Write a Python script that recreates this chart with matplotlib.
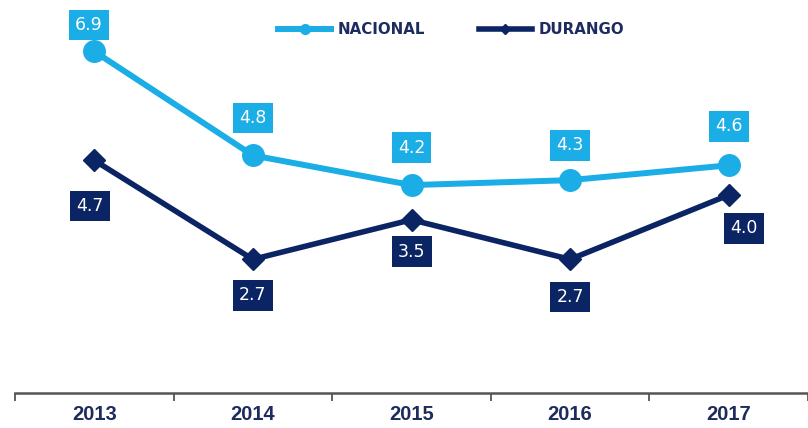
import numpy as np
import matplotlib
matplotlib.use('Agg')
import matplotlib.pyplot as plt

years = ['2013', '2014', '2015', '2016', '2017']
nacional = [6.9, 4.8, 4.2, 4.3, 4.6]
durango = [4.7, 2.7, 3.5, 2.7, 4.0]

c_nac = '#1AADE6'
c_dur = '#0B2463'
c_txt = '#1E2B5E'

fig = plt.figure(figsize=(8.08, 4.28), dpi=100)
ax = fig.add_axes([15/808, 35/428, 1 - 15/808, 393/428])

x = np.arange(len(years))
ax.plot(x, nacional, color=c_nac, lw=4.3, marker='o', ms=15.5, label='NACIONAL', zorder=3)
ax.plot(x, durango, color=c_dur, lw=4, marker='D', ms=11.5, label='DURANGO', zorder=3)

# value boxes
nac_off = [(-4, 19), (0, 27), (0, 27), (0, 25), (0, 28)]
dur_off = [(-3, -33), (0, -26), (0, -23), (0, -27), (11, -24)]
for i in range(len(years)):
    ax.annotate(f'{nacional[i]:.1f}', (x[i], nacional[i]), xytext=nac_off[i],
                textcoords='offset points', ha='center', va='center',
                color='white', fontsize=12.5,
                bbox=dict(boxstyle='square,pad=0.36', fc=c_nac, ec='none'), zorder=4)
    ax.annotate(f'{durango[i]:.1f}', (x[i], durango[i]), xytext=dur_off[i],
                textcoords='offset points', ha='center', va='center',
                color='white', fontsize=12.5,
                bbox=dict(boxstyle='square,pad=0.36', fc=c_dur, ec='none'), zorder=4)

ax.set_xlim(-0.5, -0.5 + 793/161.5)
ax.set_ylim(0, 393/49.5)

for s in ['top', 'right', 'left']:
    ax.spines[s].set_visible(False)
ax.spines['bottom'].set_color('#555555')
ax.spines['bottom'].set_linewidth(1.8)

ax.set_yticks([])
ax.set_xticks(x)
ax.set_xticklabels(years, fontsize=14.5, fontweight='bold', color=c_txt,
                   family=['Liberation Sans', 'DejaVu Sans'])
ax.tick_params(axis='x', which='major', length=0, pad=9)
ax.set_xticks(np.arange(-0.5, 5, 1), minor=True)
ax.tick_params(axis='x', which='minor', length=6, width=1.3, color='#555555', direction='out')

leg = ax.legend(loc='center', bbox_to_anchor=(0.55, 1 - 30/393), ncol=2, frameon=False,
                markerscale=0.45, handlelength=3.5, columnspacing=3.6, handletextpad=0.45,
                prop=dict(size=10.8, weight='bold'))
for t in leg.get_texts():
    t.set_color(c_txt)

fig.savefig('out.png', dpi=100)
